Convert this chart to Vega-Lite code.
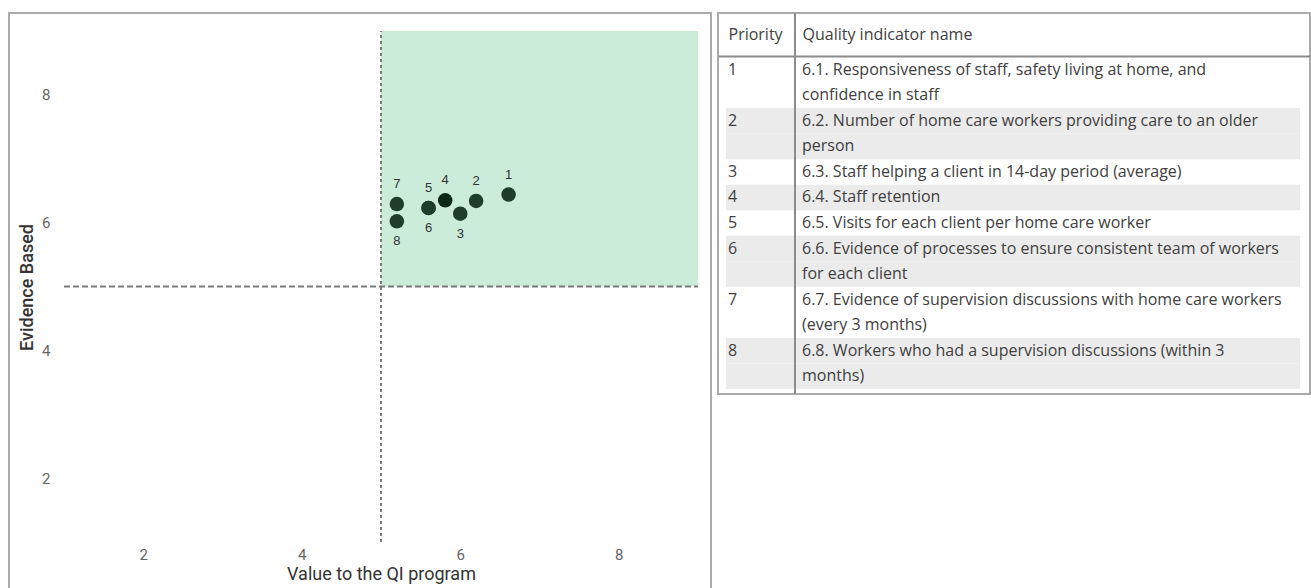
{
  "$schema": "https://vega.github.io/schema/vega-lite/v6.json",
  "background": "white",
  "padding": {"left": 8, "top": 11, "right": 0, "bottom": 0},
  "spacing": 5,
  "config": {
    "view": {"stroke": "#ababab", "strokeWidth": 2},
    "axis": {"grid": false}
  },
  "datasets": {
    "points": [
      {"priority": 1, "value": 6.61, "evidence": 6.44},
      {"priority": 2, "value": 6.2, "evidence": 6.34},
      {"priority": 3, "value": 6.0, "evidence": 6.14},
      {"priority": 4, "value": 5.81, "evidence": 6.35},
      {"priority": 5, "value": 5.6, "evidence": 6.23},
      {"priority": 6, "value": 5.6, "evidence": 6.23},
      {"priority": 7, "value": 5.2, "evidence": 6.29},
      {"priority": 8, "value": 5.2, "evidence": 6.02}
    ],
    "table": [
      {"line": 1, "priority": 1, "text": "6.1. Responsiveness of staff, safety living at home, and"},
      {"line": 2, "priority": 1, "text": "confidence in staff"},
      {"line": 3, "priority": 2, "text": "6.2. Number of home care workers providing care to an older"},
      {"line": 4, "priority": 2, "text": "person"},
      {"line": 5, "priority": 3, "text": "6.3. Staff helping a client in 14-day period (average)"},
      {"line": 6, "priority": 4, "text": "6.4. Staff retention"},
      {"line": 7, "priority": 5, "text": "6.5. Visits for each client per home care worker"},
      {"line": 8, "priority": 6, "text": "6.6. Evidence of processes to ensure consistent team of workers"},
      {"line": 9, "priority": 6, "text": "for each client"},
      {"line": 10, "priority": 7, "text": "6.7. Evidence of supervision discussions with home care workers"},
      {"line": 11, "priority": 7, "text": "(every 3 months)"},
      {"line": 12, "priority": 8, "text": "6.8. Workers who had a supervision discussions (within 3"},
      {"line": 13, "priority": 8, "text": "months)"}
    ]
  },
  "hconcat": [
    {
      "width": 702,
      "height": 576,
      "layer": [
        {
          "data": {"values": [{}]},
          "mark": {"type": "rect", "color": "#caecd9"},
          "encoding": {
            "x": {"datum": 5, "type": "quantitative"},
            "x2": {"datum": 9},
            "y": {"datum": 5, "type": "quantitative"},
            "y2": {"datum": 9}
          }
        },
        {
          "data": {"values": [{}]},
          "mark": {"type": "rule", "color": "#7a7a7a", "strokeWidth": 2, "strokeDash": [6, 3]},
          "encoding": {
            "y": {"datum": 5, "type": "quantitative"},
            "x": {"datum": 1, "type": "quantitative"},
            "x2": {"datum": 9}
          }
        },
        {
          "data": {"values": [{}]},
          "mark": {"type": "rule", "color": "#7a7a7a", "strokeWidth": 2, "strokeDash": [3, 3]},
          "encoding": {
            "x": {"datum": 5, "type": "quantitative"},
            "y": {"datum": 1, "type": "quantitative"},
            "y2": {"datum": 9}
          }
        },
        {
          "data": {"name": "points"},
          "mark": {"type": "circle", "size": 210, "opacity": 1},
          "encoding": {
            "x": {
              "field": "value",
              "type": "quantitative",
              "title": "Value to the QI program",
              "scale": {"domain": [0.306, 9.164], "nice": false, "zero": false},
              "axis": {
                "orient": "bottom",
                "offset": -47,
                "values": [2, 4, 6, 8],
                "format": "d",
                "domain": false,
                "ticks": false,
                "tickSize": 0,
                "labelPadding": 5,
                "labelFlush": false,
                "labelFont": "Roboto",
                "labelFontSize": 15,
                "labelColor": "#666666",
                "titleFont": "Roboto",
                "titleFontSize": 18,
                "titleFontWeight": "normal",
                "titleColor": "#333333",
                "titlePadding": 3,
                "titleX": 372
              }
            },
            "y": {
              "field": "evidence",
              "type": "quantitative",
              "title": "Evidence Based",
              "scale": {"domain": [0.2642, 9.2818], "nice": false, "zero": false},
              "axis": {
                "orient": "left",
                "offset": -55,
                "values": [2, 4, 6, 8],
                "format": "d",
                "domain": false,
                "ticks": false,
                "tickSize": 0,
                "labelPadding": 14,
                "labelFlush": false,
                "labelFont": "Roboto",
                "labelFontSize": 15,
                "labelColor": "#666666",
                "titleFont": "Roboto",
                "titleFontSize": 18,
                "titleFontWeight": 500,
                "titleColor": "#333333",
                "titlePadding": 5,
                "titleY": 274
              }
            },
            "color": {
              "condition": {"test": "datum.priority == 4", "value": "#0c2716"},
              "value": "#1f3d2b"
            }
          }
        },
        {
          "data": {"name": "points"},
          "transform": [{"filter": {"field": "priority", "oneOf": [1, 2, 4, 5, 7]}}],
          "mark": {"type": "text", "dy": -20, "font": "Liberation Sans", "fontSize": 13, "color": "#333333"},
          "encoding": {
            "x": {"field": "value", "type": "quantitative"},
            "y": {"field": "evidence", "type": "quantitative"},
            "text": {"field": "priority", "type": "nominal"}
          }
        },
        {
          "data": {"name": "points"},
          "transform": [{"filter": {"field": "priority", "oneOf": [3, 6, 8]}}],
          "mark": {"type": "text", "dy": 20, "font": "Liberation Sans", "fontSize": 13, "color": "#333333"},
          "encoding": {
            "x": {"field": "value", "type": "quantitative"},
            "y": {"field": "evidence", "type": "quantitative"},
            "text": {"field": "priority", "type": "nominal"}
          }
        }
      ]
    },
    {
      "width": 592,
      "height": 381,
      "data": {"name": "table"},
      "layer": [
        {
          "transform": [{"filter": "datum.priority % 2 == 0"}],
          "mark": {"type": "rect", "color": "#ebebeb", "xOffset": -2, "x2Offset": -10},
          "encoding": {
            "x": {
              "datum": 0,
              "type": "quantitative",
              "title": null,
              "scale": {"domain": [-0.135135, 7.864865], "nice": false, "zero": false},
              "axis": {
                "orient": "top",
                "offset": -43,
                "title": null,
                "values": [0, 1],
                "labelExpr": "datum.value == 0 ? 'Priority' : 'Quality indicator name'",
                "ticks": false,
                "tickSize": 0,
                "domainColor": "#8c8c8c",
                "domainWidth": 2,
                "labelAngle": 0,
                "labelAlign": "left",
                "labelBaseline": "middle",
                "labelPadding": 22,
                "labelFlush": false,
                "labelOverlap": false,
                "labelFont": "Open Sans",
                "labelFontSize": 16,
                "labelColor": "#404040"
              }
            },
            "x2": {"value": "width"},
            "y": {
              "field": "line",
              "type": "ordinal",
              "scale": {"type": "band", "range": [44, 376], "paddingInner": 0, "paddingOuter": 0},
              "axis": null
            }
          }
        },
        {
          "data": {"values": [{}]},
          "mark": {"type": "rule", "color": "#8c8c8c", "strokeWidth": 2, "xOffset": -7},
          "encoding": {
            "x": {"datum": 1, "type": "quantitative"}
          }
        },
        {
          "mark": {"type": "text", "align": "left", "baseline": "middle", "font": "Open Sans", "fontSize": 16, "color": "#404040"},
          "encoding": {
            "x": {"datum": 1, "type": "quantitative"},
            "y": {"field": "line", "type": "ordinal"},
            "text": {"field": "text", "type": "nominal"}
          }
        },
        {
          "transform": [{"aggregate": [{"op": "min", "field": "line", "as": "line"}], "groupby": ["priority"]}],
          "mark": {"type": "text", "align": "left", "baseline": "middle", "font": "Open Sans", "fontSize": 16, "color": "#404040"},
          "encoding": {
            "x": {"datum": 0, "type": "quantitative"},
            "y": {"field": "line", "type": "ordinal"},
            "text": {"field": "priority", "type": "nominal"}
          }
        }
      ]
    }
  ]
}
